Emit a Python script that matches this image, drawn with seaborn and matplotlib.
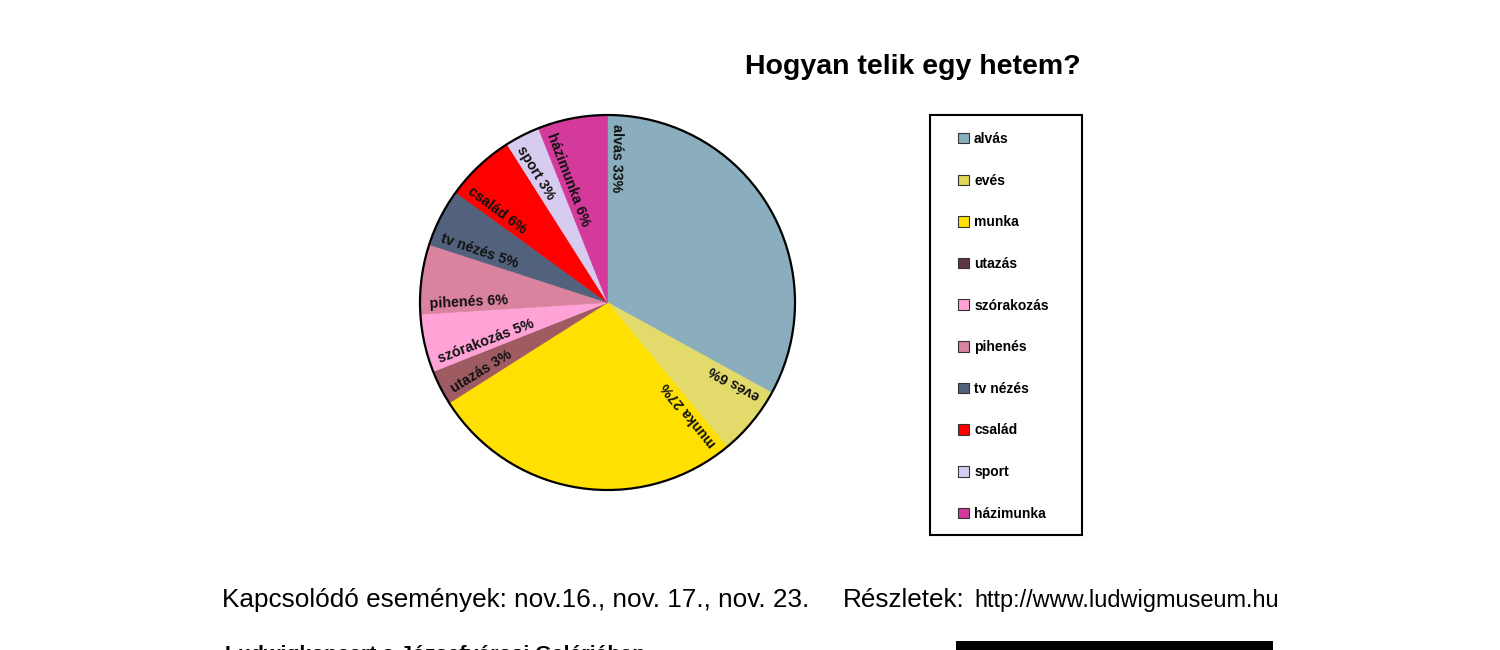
import numpy as np
import matplotlib
matplotlib.use("Agg")
import matplotlib.pyplot as plt
from matplotlib.patches import Patch, Rectangle, Circle
import seaborn as sns

# --- DATA ---
categories = ["alvás", "evés", "munka", "utazás", "szórakozás",
              "pihenés", "tv nézés", "család", "sport", "házimunka"]
percents = [33, 6, 27, 3, 5, 6, 5, 6, 3, 6]
wedge_colors = ["#8AAEBD", "#E2DA6A", "#FFE000", "#9E5C62", "#FFA3D6",
                "#D9839F", "#52627D", "#FF0000", "#D7CCF0", "#D33A9B"]
legend_colors = ["#8AAEBD", "#E0D65A", "#FFE000", "#5E3545", "#FFA3D6",
                 "#D9839F", "#52627D", "#FF0000", "#D7CCF0", "#D33A9B"]

title = "Hogyan telik egy hetem?"
footer_main = "Kapcsolódó események: nov.16., nov. 17., nov. 23."
footer_det = "Részletek:"
footer_url = "http://www.ludwigmuseum.hu"
footer_cut = "Ludwigkoncert a Józsefvárosi Galériában"

# --- STYLE ---
sns.set_theme(style="white")
plt.rcParams["font.family"] = ["Liberation Sans", "DejaVu Sans"]
plt.rcParams["text.color"] = "black"

W, H = 1500, 650
fig = plt.figure(figsize=(W / 100, H / 100), dpi=100)
fig.patch.set_facecolor("white")

# pie axes: centre (607.5, 302.5) px, radius 187.5 px
cx, cy, R = 607.5, 302.5, 187.5
pad = 1.03
ax = fig.add_axes([(cx - R * pad) / W, (H - cy - R * pad) / H,
                   2 * R * pad / W, 2 * R * pad / H])

wedges, _ = ax.pie(percents, colors=wedge_colors, startangle=90,
                   counterclock=False, radius=1)
for w in wedges:
    w.set_edgecolor(w.get_facecolor())
    w.set_linewidth(0.5)
ax.add_patch(Circle((0, 0), 1, fill=False, edgecolor="black", lw=1.6))

# radial labels, placed along the starting edge of each slice
cum = np.cumsum([0] + percents[:-1])
for cat, p, c in zip(categories, percents, cum):
    theta = 90 - 3.6 * c - 0.8
    t = np.deg2rad(theta)
    rot = (theta + 180) % 360
    if rot > 180:
        rot -= 360
    ax.text(0.95 * np.cos(t), 0.95 * np.sin(t), f"{cat} {p}%",
            rotation=rot, rotation_mode="anchor", ha="left", va="bottom",
            fontsize=10.3, fontweight="bold", color="#111111")

ax.set_xlim(-pad, pad)
ax.set_ylim(-pad, pad)
ax.set_aspect("equal")
ax.axis("off")

# legend
handles = [Patch(facecolor=c, edgecolor="#333333", lw=0.8) for c in legend_colors]
fig.legend(handles, categories, loc="upper left",
           bbox_to_anchor=(958 / W, 1 - 132 / H), frameon=False,
           handlelength=0.8, handleheight=0.8, handletextpad=0.36,
           labelspacing=1.99, borderpad=0, borderaxespad=0,
           prop={"size": 10, "weight": "bold"})
fig.add_artist(Rectangle((930 / W, 1 - 535 / H), 152 / W, 420 / H,
                         transform=fig.transFigure, fill=False,
                         edgecolor="black", lw=1.5))

# title
fig.text(913 / W, 1 - 74 / H, title, ha="center", va="baseline",
         fontsize=20.5, fontweight="bold")

# footer
fig.text(222 / W, 1 - 607 / H, footer_main, ha="left", va="baseline", fontsize=18.8)
fig.text(843 / W, 1 - 607 / H, footer_det, ha="left", va="baseline", fontsize=18.8)
fig.text(974 / W, 1 - 607 / H, footer_url, ha="left", va="baseline", fontsize=16.9)
fig.text(225 / W, 1 - 660 / H, footer_cut, ha="left", va="baseline",
         fontsize=15.3, fontweight="bold")
fig.add_artist(Rectangle((956 / W, 0), 317 / W, 9 / H, transform=fig.transFigure,
                         facecolor="black", edgecolor="none"))

fig.savefig("out.png", dpi=100)
